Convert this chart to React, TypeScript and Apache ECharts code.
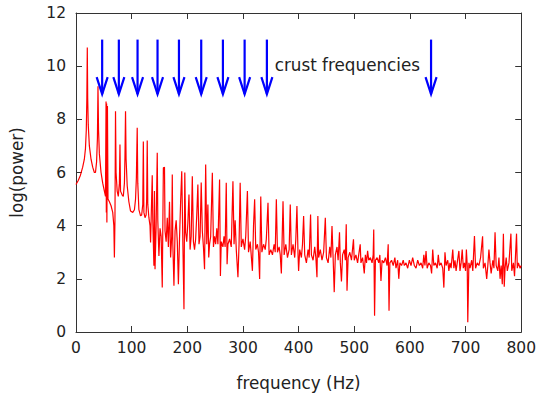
import React, { useEffect, useRef } from "react";
import * as echarts from "echarts";

const xTicks = [0, 800, 100];
const yTicks = [0, 12, 2];

const freqHz = [
  0, 4, 8, 12, 15, 17, 18.5, 19.5, 20.3, 21, 22, 24, 27, 30, 33, 35, 37, 38.5, 39.5, 40.5,
  42, 45, 48, 51, 53, 54, 54.5, 55, 55.5, 56.5, 57.5, 60, 63, 66, 68, 69, 70, 71, 72, 74,
  76, 78, 79, 80, 83, 85, 87, 88, 89, 90, 92, 95, 98, 102, 105, 107, 108.5, 110, 111, 113,
  116, 118, 120, 121, 122, 124, 126, 127, 128, 129, 131, 133, 134, 135, 137, 138, 140, 141, 142, 144,
  146, 147, 149, 151, 153, 155, 157, 159, 160, 162, 164, 166, 168, 170, 172, 173, 174, 176, 178, 180,
  182, 184, 186, 188, 190, 192, 194, 195.5, 197, 199, 201, 203, 205, 207, 209, 211, 213, 215, 217, 219,
  221, 223, 225, 227, 229, 231, 233, 235, 237, 238.5, 240, 242, 245, 247, 249, 251, 253, 255, 258, 259.5,
  261, 264, 266, 268, 270, 271.5, 273, 276, 279, 282, 284, 286, 288, 291, 293, 295, 297, 300, 303, 305,
  308, 310, 313, 317, 319, 321, 323, 326, 328, 330, 332, 334, 337, 340, 342, 345, 347, 350, 353, 356,
  358, 360, 362, 365, 367, 369, 372, 374, 377, 380, 383, 385, 387, 390, 393, 395, 397, 399, 400, 402,
  405, 407, 409, 411, 414, 417, 419, 421.5, 423, 426, 429, 431, 433, 434.6, 436, 439, 442, 445, 448, 450,
  453, 456, 458, 460, 462, 464, 466, 469, 471, 473.5, 475, 477, 479, 482, 484, 485.6, 487, 489, 492, 495,
  498.6, 500, 503, 506, 508, 510.7, 512, 515, 518, 520, 522, 524, 526, 529, 532, 534, 535, 536.5, 538, 541,
  544, 546, 548, 550, 553, 556, 559, 561, 562.5, 564, 567, 570, 573, 575, 578, 580, 582, 585, 588, 590,
  593, 596, 599, 602, 605, 608, 611, 614, 617, 620, 623, 625, 627, 629, 631, 634, 637, 639, 641, 643,
  646, 649, 651, 653, 656, 659, 661, 663, 665, 668, 670, 672, 674, 677, 679, 681, 683, 685, 688, 690,
  692, 694, 696, 698, 700, 701.5, 703, 704, 706, 708, 711, 713, 716, 718, 721, 724, 727, 730.6, 732, 735,
  738, 740, 742, 744, 746, 749, 751, 753, 755, 758, 760, 762, 764, 766, 768, 769.5, 771, 773, 775, 778,
  781.5, 783, 786, 788, 791.6, 793, 795, 798, 800,
];

const logPower = [
  5.55, 5.7, 5.9, 6.2, 6.5, 6.9, 7.6, 8.8, 10.7, 8.8, 7.8, 7.0, 6.5, 6.2, 6.0, 6.0, 6.4, 7.3, 9.24, 7.6,
  6.7, 6.0, 5.6, 5.3, 5.1, 8.67, 4.5, 8.6, 4.12, 8.5, 5.0, 4.9, 4.75, 4.5, 4.0, 2.8, 4.2, 8.3, 6.0, 5.3,
  5.1, 5.6, 7.05, 5.3, 5.15, 5.1, 5.6, 6.6, 8.3, 6.5, 5.5, 4.9, 4.55, 4.5, 4.6, 5.0, 5.8, 7.68, 5.6, 4.6,
  4.37, 4.4, 4.8, 7.17, 4.5, 4.3, 4.4, 5.0, 7.2, 4.8, 4.3, 4.0, 3.37, 4.2, 5.9, 4.2, 2.49, 5.3, 2.36, 4.0,
  6.74, 4.2, 2.86, 3.9, 3.6, 1.67, 6.18, 6.2, 3.8, 3.4, 4.3, 3.2, 4.9, 2.8, 3.6, 5.92, 3.3, 1.74, 3.8, 4.2,
  3.4, 1.8, 3.5, 4.9, 6.05, 3.4, 0.86, 6.0, 3.75, 3.4, 4.1, 5.17, 3.1, 3.6, 5.86, 3.4, 3.1, 3.5, 4.4, 5.55,
  3.3, 3.6, 5.62, 3.8, 3.2, 2.36, 6.3, 3.3, 4.8, 2.8, 3.3, 3.6, 5.99, 3.2, 3.6, 3.3, 3.9, 3.3, 5.74, 2.11,
  3.4, 3.2, 3.6, 3.2, 5.61, 2.55, 3.3, 3.5, 3.2, 5.67, 3.3, 4.2, 3.1, 2.06, 3.3, 5.61, 3.2, 3.5, 3.1, 3.6,
  5.3, 3.0, 3.4, 2.3, 4.0, 4.99, 3.1, 3.3, 3.0, 1.99, 5.1, 3.0, 3.3, 3.1, 3.5, 4.86, 2.9, 3.1, 2.9, 3.3,
  3.0, 4.99, 3.0, 3.2, 2.9, 2.2, 4.92, 2.9, 3.3, 2.8, 3.1, 4.8, 2.9, 3.3, 2.8, 3.5, 4.74, 2.9, 2.3, 3.1,
  2.8, 3.3, 4.36, 2.9, 2.6, 3.1, 2.8, 4.42, 2.9, 2.7, 3.2, 2.8, 2.06, 4.36, 2.8, 3.1, 2.7, 3.0, 4.3, 2.8,
  2.6, 3.2, 2.8, 3.99, 2.8, 1.5, 2.9, 3.2, 2.7, 3.75, 2.6, 1.9, 2.9, 3.1, 2.7, 4.05, 1.55, 2.8, 3.0, 2.7,
  3.49, 2.7, 2.9, 2.6, 2.9, 3.3, 2.6, 2.8, 2.2, 2.9, 2.6, 3.05, 2.7, 2.8, 2.6, 2.9, 3.86, 0.61, 2.7, 2.8,
  2.6, 2.9, 1.92, 2.7, 2.6, 2.8, 2.5, 3.3, 0.8, 2.6, 2.7, 2.5, 2.8, 2.4, 2.7, 2.0, 2.6, 2.5, 2.7, 2.5,
  2.6, 2.4, 2.7, 2.5, 2.8, 2.5, 2.4, 2.7, 2.5, 2.6, 2.4, 2.9, 2.5, 3.05, 2.4, 2.6, 2.5, 2.2, 3.1, 2.5,
  2.6, 2.4, 2.9, 2.5, 2.6, 2.4, 1.67, 3.0, 2.5, 2.7, 2.3, 2.6, 2.4, 3.1, 2.4, 2.7, 2.3, 2.6, 3.05, 2.3,
  2.6, 3.1, 2.4, 2.6, 2.3, 3.1, 2.5, 0.37, 2.6, 2.4, 2.7, 2.3, 3.61, 2.4, 2.6, 2.5, 2.8, 3.6, 2.4, 2.6,
  2.0, 2.5, 3.1, 2.6, 2.2, 2.7, 2.4, 3.75, 2.5, 2.3, 2.8, 2.0, 2.5, 1.8, 3.7, 1.7, 2.4, 2.8, 2.3, 2.6,
  3.7, 2.3, 2.6, 2.1, 3.7, 2.4, 2.6, 2.4, 2.5,
];

const arrowFreqs = [47, 77, 110.6, 146.5, 185, 225, 264, 303, 343, 638];
const arrowTop = 11;
const arrowTip = 8.95;

const annotationText = "crust frequencies";
const annotationPos = [357, 10.05];

const FONT = "DejaVu Sans";
const TEXT_COLOR = "#222";

export default function App() {
  const ref = useRef<HTMLDivElement>(null);

  useEffect(() => {
    if (!ref.current) return;
    const chart = echarts.init(ref.current, undefined, { renderer: "svg" });

    const axisLineStyle = { color: "#333", width: 1 };
    const makeX = (pos: "bottom" | "top", labels: boolean) => ({
      type: "value",
      position: pos,
      min: xTicks[0],
      max: xTicks[1],
      interval: xTicks[2],
      axisLine: { show: true, onZero: false, lineStyle: axisLineStyle },
      axisTick: { show: true, inside: true, length: 6, lineStyle: axisLineStyle },
      splitLine: { show: false },
      axisLabel: {
        show: labels,
        fontSize: 15.5,
        fontFamily: FONT,
        color: TEXT_COLOR,
        margin: 8,
      },
      ...(labels
        ? {
            name: "frequency (Hz)",
            nameLocation: "middle",
            nameGap: 42,
            nameTextStyle: { fontSize: 16.8, fontFamily: FONT, color: TEXT_COLOR },
          }
        : {}),
    });
    const makeY = (pos: "left" | "right", labels: boolean) => ({
      type: "value",
      position: pos,
      min: yTicks[0],
      max: yTicks[1],
      interval: yTicks[2],
      axisLine: { show: true, onZero: false, lineStyle: axisLineStyle },
      axisTick: { show: true, inside: true, length: 6, lineStyle: axisLineStyle },
      splitLine: { show: false },
      axisLabel: {
        show: labels,
        fontSize: 15.5,
        fontFamily: FONT,
        color: TEXT_COLOR,
        margin: 10,
      },
      ...(labels
        ? {
            name: "log(power)",
            nameLocation: "middle",
            nameGap: 51,
            nameTextStyle: { fontSize: 16.8, fontFamily: FONT, color: TEXT_COLOR },
          }
        : {}),
    });

    chart.setOption({
      animation: false,
      backgroundColor: "#ffffff",
      grid: { left: 76, right: 17, top: 13, bottom: 63, containLabel: false },
      xAxis: [makeX("bottom", true), makeX("top", false)],
      yAxis: [makeY("left", true), makeY("right", false)],
      series: [
        {
          type: "line",
          xAxisIndex: 0,
          yAxisIndex: 0,
          data: freqHz.map((f, i) => [f, logPower[i]]),
          showSymbol: false,
          symbol: "none",
          lineStyle: { color: "#ff0000", width: 1.2 },
          z: 2,
        },
        {
          type: "custom",
          xAxisIndex: 0,
          yAxisIndex: 0,
          data: arrowFreqs.map((f) => [f, arrowTop, arrowTip]),
          renderItem: (_params: any, api: any) => {
            const top = api.coord([api.value(0), api.value(1)]);
            const tip = api.coord([api.value(0), api.value(2)]);
            return {
              type: "group",
              children: [
                {
                  type: "line",
                  shape: { x1: top[0], y1: top[1], x2: tip[0], y2: tip[1] },
                  style: { stroke: "#0000ff", lineWidth: 2.2 },
                },
                {
                  type: "polyline",
                  shape: {
                    points: [
                      [tip[0] - 5.5, tip[1] - 17],
                      [tip[0], tip[1]],
                      [tip[0] + 5.5, tip[1] - 17],
                    ],
                  },
                  style: { stroke: "#0000ff", lineWidth: 2.2, fill: "none" },
                },
              ],
            };
          },
          z: 3,
        },
        {
          type: "custom",
          xAxisIndex: 0,
          yAxisIndex: 0,
          data: [annotationPos],
          renderItem: (_params: any, api: any) => {
            const p = api.coord([api.value(0), api.value(1)]);
            return {
              type: "text",
              x: p[0],
              y: p[1],
              style: {
                text: annotationText,
                fill: TEXT_COLOR,
                fontSize: 16.8,
                fontFamily: FONT,
                align: "left",
                verticalAlign: "middle",
              },
            };
          },
          z: 3,
        },
      ],
    });

    return () => chart.dispose();
  }, []);

  return (
    <div
      ref={ref}
      style={{ position: "fixed", left: 0, top: 0, width: 539, height: 396, background: "#fff" }}
    />
  );
}
